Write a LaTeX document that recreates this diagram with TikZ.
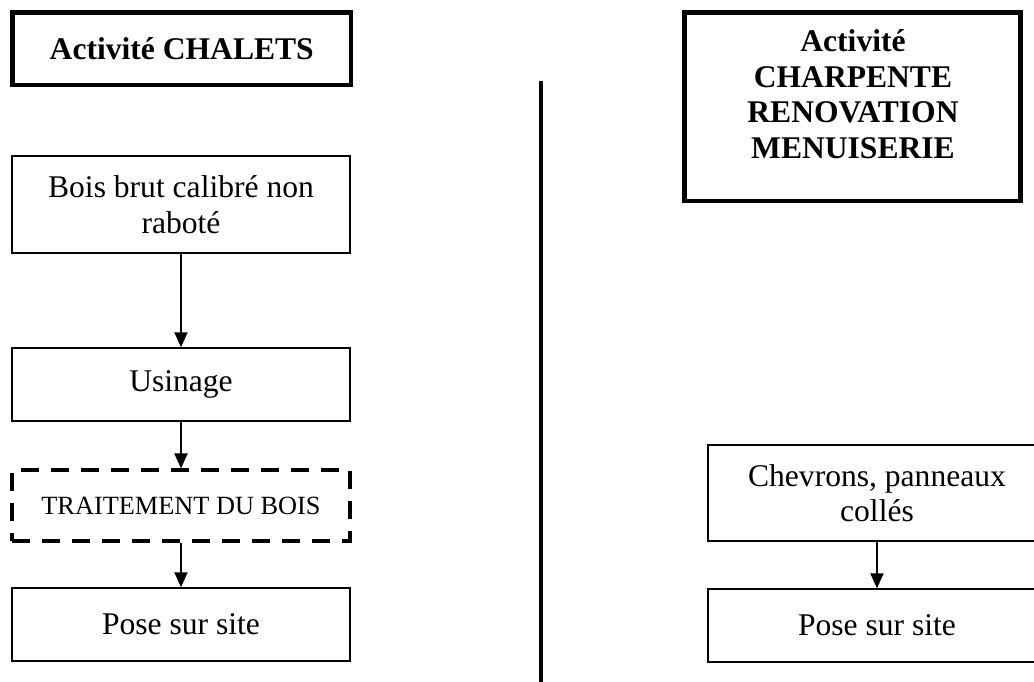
\documentclass[tikz,border=0pt]{standalone}
\usepackage{fontspec}
\setmainfont{Liberation Serif}
\usetikzlibrary{arrows.meta}
\tikzset{>={Triangle[length=5.7pt,width=5pt]}}
\tikzset{
  box/.style={draw, line width=0.6pt, minimum width=128.4pt, align=center, inner sep=0pt, font=\fontsize{12}{13.5}\selectfont},
  dashbox/.style={box, line width=1.2pt, dash pattern=on 6.8pt off 4.6pt, font=\fontsize{10}{12}\selectfont},
  titlebox/.style={draw, line width=1.7pt, inner sep=0pt, align=center, font=\bfseries\fontsize{12}{13.5}\selectfont},
  flow/.style={->, line width=0.6pt}
}

\begin{document}
\begin{tikzpicture}[x=0.38pt, y=-0.38pt]
    \useasboundingbox (0,0) rectangle (1034,681);
    \node[titlebox, minimum width=128.6pt, minimum height=27.5pt] (chalets) at (181.75,48.75) {Activité CHALETS};
    \node[titlebox, minimum width=127.7pt, minimum height=71.6pt] (charpente) at (852.5,106.75) {};
    \node[titlebox, draw=none] (charpentetxt) at (853,94) {Activité\\CHARPENTE\\RENOVATION\\MENUISERIE};
    \node[box, minimum height=36.9pt] (bois) at (181,204.5) {Bois brut calibré non\\raboté};
    \node[box, minimum height=27.7pt] (usinage) at (181,384.5) {Usinage};
    \node[dashbox, minimum height=27pt] (traitement) at (181,505.5) {TRAITEMENT DU BOIS};
    \node[box, minimum height=27.7pt] (poseA) at (181,624.5) {Pose sur site};
    \node[box, minimum height=36.5pt] (chevrons) at (877,493) {Chevrons, panneaux\\collés};
    \node[box, minimum height=27.7pt] (poseB) at (877,625.5) {Pose sur site};
    \coordinate (divtop) at (541,81);
    \coordinate (divbot) at (541,690);
    \draw[line width=1.7pt] (divtop) -- (divbot);
    \draw[flow] (bois) -- (usinage);
    \draw[flow] (usinage) -- (traitement);
    \draw[flow] (traitement) -- (poseA);
    \draw[flow] (chevrons) -- (poseB);
\end{tikzpicture}
\end{document}
